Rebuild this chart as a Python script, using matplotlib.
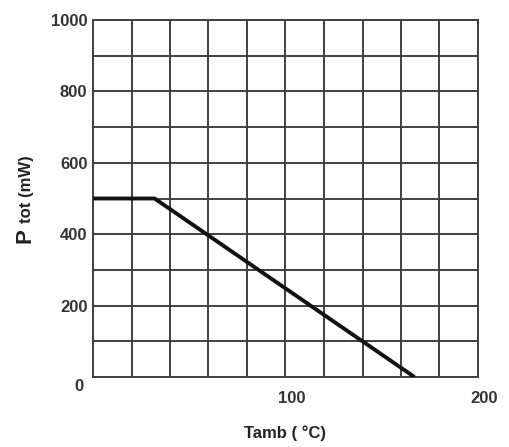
import matplotlib
matplotlib.use('Agg')
import matplotlib.pyplot as plt
from matplotlib.transforms import ScaledTranslation

# derating curve
temp_c = [0, 32, 167]
power_mw = [500, 500, 0]

x_grid = list(range(0, 201, 20))
y_grid = list(range(0, 1001, 100))
y_ticks = [0, 200, 400, 600, 800, 1000]
y_labels = ['0', '200', '400', '600', '800', '1000']
x_ticks = [100, 200]
x_labels = ['100', '200']

plt.rcParams['font.family'] = ['Liberation Sans', 'DejaVu Sans']

fig = plt.figure(figsize=(5.10, 4.47), dpi=100)
ax = fig.add_axes([93 / 510, 70 / 447, 385 / 510, 357 / 447])

grid_color = '#404040'
for gx in x_grid:
    ax.axvline(gx, color=grid_color, lw=1.4, zorder=1)
for gy in y_grid:
    ax.axhline(gy, color=grid_color, lw=1.4, zorder=1)

ax.plot(temp_c, power_mw, color='#111111', lw=2.8, solid_capstyle='butt', zorder=3)

ax.set_xlim(0, 200)
ax.set_ylim(0, 1000)
for sp in ax.spines.values():
    sp.set_color(grid_color)
    sp.set_linewidth(1.4)

ax.set_xticks(x_ticks)
ax.set_xticklabels(x_labels, fontsize=12, fontweight='bold', color='#333333')
ax.set_yticks(y_ticks)
ax.set_yticklabels(y_labels, fontsize=12, fontweight='bold', color='#333333')
ax.tick_params(length=0, pad=4)
ax.tick_params(axis='x', pad=10)

# the "0" sits a bit below the corner in the original
zero = ax.get_yticklabels()[0]
zero.set_transform(zero.get_transform() + ScaledTranslation(-4 / 100, -8 / 100, fig.dpi_scale_trans))
# x labels are nudged a little to the right
for lab in ax.get_xticklabels():
    lab.set_transform(lab.get_transform() + ScaledTranslation(6 / 100, 0, fig.dpi_scale_trans))

ax.set_xlabel('Tamb ( °C)', fontsize=12, fontweight='bold', color='#222222', labelpad=14)

fig.text(25 / 510, 1 - 236 / 447, 'P', rotation=90, fontsize=16, fontweight='bold',
         color='#222222', ha='center', va='center')
fig.text(27 / 510, 1 - 189 / 447, 'tot (mW)', rotation=90, fontsize=12, fontweight='bold',
         color='#222222', ha='center', va='center')

fig.savefig('out.png', dpi=100, facecolor='white')
